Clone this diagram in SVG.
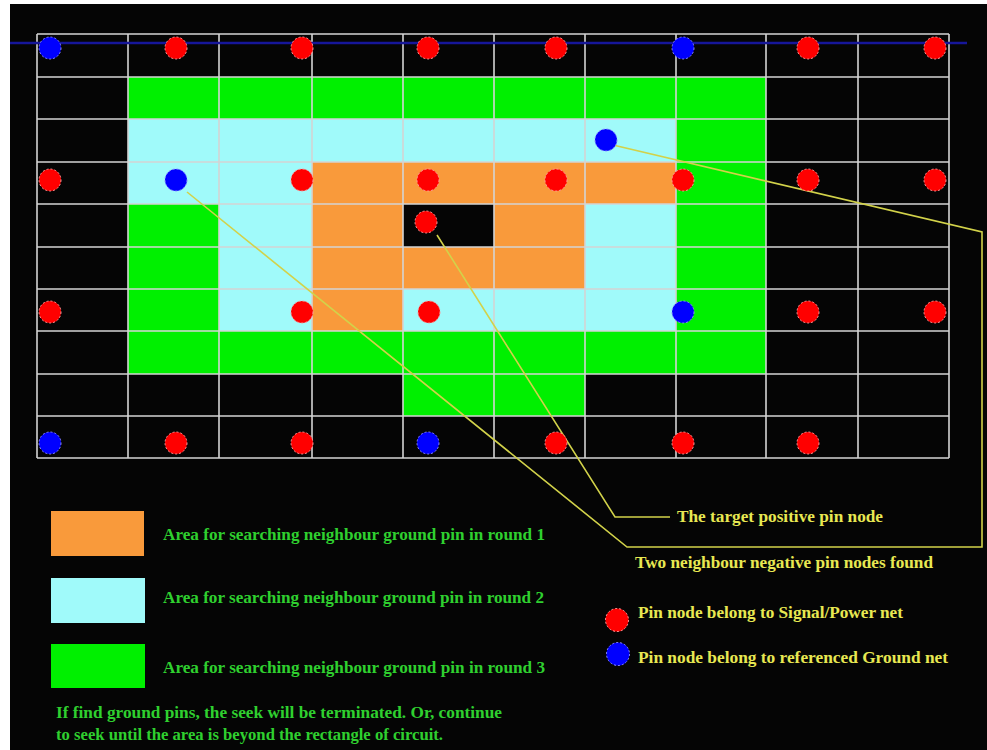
<svg xmlns="http://www.w3.org/2000/svg" width="987" height="750" viewBox="0 0 987 750">
<defs>
<style>
.bg{fill:#050505}
.g{fill:#00f000}
.c{fill:#a0fafa}
.o{fill:#f99a3b}
.k{fill:#050505}
.grid{stroke:#d4d4d4;stroke-width:1.6;fill:none}
.pr{fill:#ff0000;stroke:#ff9a9a;stroke-width:1;stroke-dasharray:2 2}
.pb{fill:#0000ff;stroke:#8a8aff;stroke-width:1;stroke-dasharray:2 2}
.conn{stroke:#d2d24a;stroke-width:1.6;fill:none}
.tg{font-family:"Liberation Serif",serif;font-weight:bold;font-size:17px;fill:#2fd02f}
.ty{font-family:"Liberation Serif",serif;font-weight:bold;font-size:17px;fill:#e8e852}
</style>
</defs>
<rect x="0" y="0" width="987" height="750" fill="#ffffff"/>
<rect class="bg" x="10" y="4" width="977" height="746"/>

<g id="areas">
<rect class="g" x="128" y="77" width="638" height="297"/>
<rect class="g" x="403" y="374" width="182" height="42"/>
<rect class="c" x="128" y="119" width="548" height="43"/>
<rect class="c" x="128" y="162" width="184" height="42"/>
<rect class="c" x="219" y="204" width="93" height="127"/>
<rect class="c" x="585" y="204" width="91" height="85"/>
<rect class="c" x="403" y="289" width="273" height="42"/>
<rect class="o" x="312" y="162" width="364" height="42"/>
<rect class="o" x="312" y="204" width="91" height="127"/>
<rect class="o" x="494" y="204" width="91" height="43"/>
<rect class="o" x="403" y="247" width="182" height="42"/>
<rect class="k" x="403" y="204" width="91" height="43"/>
</g>

<g id="grid" class="grid">
<path d="M37 34V458M128 34V458M219 34V458M312 34V458M403 34V458M494 34V458M585 34V458M676 34V458M766 34V458M858 34V458M949 34V458"/>
<path d="M37 34H949M37 77H949M37 119H949M37 162H949M37 204H949M37 247H949M37 289H949M37 331H949M37 374H949M37 416H949M37 458H949"/>
</g>

<line id="ref-line" x1="10" y1="43" x2="967" y2="43" stroke="#16169a" stroke-width="2.5"/>

<g id="connectors">
<path class="conn" d="M613 145L982 232V547H627L187 192"/>
<path class="conn" d="M437 235L615 517H670"/>
</g>

<g id="pins">
<g id="pin-r0c0"><circle class="pb" cx="50" cy="48" r="11"/></g>
<g id="pin-r0c1"><circle class="pr" cx="176" cy="48" r="11"/></g>
<g id="pin-r0c2"><circle class="pr" cx="302" cy="48" r="11"/></g>
<g id="pin-r0c3"><circle class="pr" cx="428" cy="48" r="11"/></g>
<g id="pin-r0c4"><circle class="pr" cx="556" cy="48" r="11"/></g>
<g id="pin-r0c5"><circle class="pb" cx="683" cy="48" r="11"/></g>
<g id="pin-r0c6"><circle class="pr" cx="808" cy="48" r="11"/></g>
<g id="pin-r0c7"><circle class="pr" cx="935" cy="48" r="11"/></g>

<g id="pin-found-2"><circle class="pb" cx="606" cy="140" r="11"/></g>

<g id="pin-r1c0"><circle class="pr" cx="50" cy="180" r="11"/></g>
<g id="pin-found-1"><circle class="pb" cx="176" cy="180" r="11"/></g>
<g id="pin-r1c2"><circle class="pr" cx="302" cy="180" r="11"/></g>
<g id="pin-r1c3"><circle class="pr" cx="428" cy="180" r="11"/></g>
<g id="pin-r1c4"><circle class="pr" cx="556" cy="180" r="11"/></g>
<g id="pin-r1c5"><circle class="pr" cx="683" cy="180" r="11"/></g>
<g id="pin-r1c6"><circle class="pr" cx="808" cy="180" r="11"/></g>
<g id="pin-r1c7"><circle class="pr" cx="935" cy="180" r="11"/></g>

<g id="pin-target"><circle class="pr" cx="426" cy="222" r="11"/></g>

<g id="pin-r2c0"><circle class="pr" cx="50" cy="312" r="11"/></g>
<g id="pin-r2c2"><circle class="pr" cx="302" cy="312" r="11"/></g>
<g id="pin-r2c3"><circle class="pr" cx="429" cy="312" r="11"/></g>
<g id="pin-r2c5"><circle class="pb" cx="683" cy="312" r="11"/></g>
<g id="pin-r2c6"><circle class="pr" cx="808" cy="312" r="11"/></g>
<g id="pin-r2c7"><circle class="pr" cx="935" cy="312" r="11"/></g>

<g id="pin-r3c0"><circle class="pb" cx="50" cy="443" r="11"/></g>
<g id="pin-r3c1"><circle class="pr" cx="176" cy="443" r="11"/></g>
<g id="pin-r3c2"><circle class="pr" cx="302" cy="443" r="11"/></g>
<g id="pin-r3c3"><circle class="pb" cx="428" cy="443" r="11"/></g>
<g id="pin-r3c4"><circle class="pr" cx="556" cy="443" r="11"/></g>
<g id="pin-r3c5"><circle class="pr" cx="683" cy="443" r="11"/></g>
<g id="pin-r3c6"><circle class="pr" cx="808" cy="443" r="11"/></g>
</g>

<g id="label-target"><text class="ty" x="677" y="522" textLength="206" lengthAdjust="spacingAndGlyphs">The target positive pin node</text></g>
<g id="label-found"><text class="ty" x="635" y="568" textLength="298" lengthAdjust="spacingAndGlyphs">Two neighbour negative pin nodes found</text></g>

<g id="legend-signal">
<circle class="pr" cx="617" cy="620" r="11.5"/>
<text class="ty" x="638" y="618" textLength="265" lengthAdjust="spacingAndGlyphs">Pin node belong to Signal/Power net</text>
</g>
<g id="legend-ground">
<circle class="pb" cx="618" cy="654" r="11.5"/>
<text class="ty" x="638" y="663" textLength="310" lengthAdjust="spacingAndGlyphs">Pin node belong to referenced Ground net</text>
</g>

<g id="legend-round1">
<rect class="o" x="51" y="511" width="93" height="45"/>
<text class="tg" x="163" y="540" textLength="382" lengthAdjust="spacingAndGlyphs">Area for searching neighbour ground pin in round 1</text>
</g>
<g id="legend-round2">
<rect class="c" x="51" y="578" width="94" height="45"/>
<text class="tg" x="163" y="603" textLength="381" lengthAdjust="spacingAndGlyphs">Area for searching neighbour ground pin in round 2</text>
</g>
<g id="legend-round3">
<rect class="g" x="51" y="644" width="94" height="44"/>
<text class="tg" x="163" y="673" textLength="382" lengthAdjust="spacingAndGlyphs">Area for searching neighbour ground pin in round 3</text>
</g>

<g id="note">
<text class="tg" x="56" y="718" textLength="446" lengthAdjust="spacingAndGlyphs">If find ground pins, the seek will be terminated. Or, continue</text>
<text class="tg" x="56" y="740" textLength="387" lengthAdjust="spacingAndGlyphs">to seek until the area is beyond the rectangle of circuit.</text>
</g>
</svg>
